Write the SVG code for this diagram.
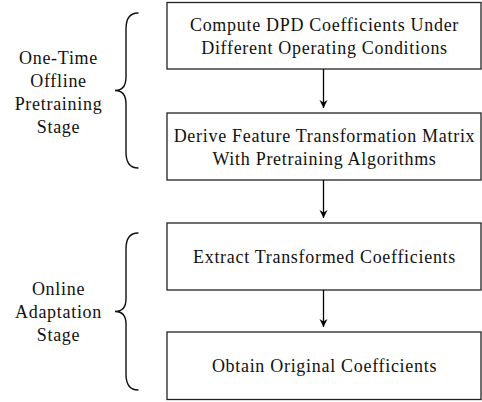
<svg xmlns="http://www.w3.org/2000/svg" width="482" height="402" viewBox="0 0 482 402">
  <defs>
    <style>
      .box { fill: #ffffff; stroke: #222222; stroke-width: 1.3; }
      .lbl { font-family: "Liberation Serif", "DejaVu Serif", serif; font-size: 18px; letter-spacing: 0.7px; fill: #111111; text-anchor: middle; }
      .edge { stroke: #000000; stroke-width: 1.3; fill: none; }
      .brace { stroke: #111111; stroke-width: 1.4; fill: none; stroke-linecap: round; }
    </style>
    <marker id="arrowhead" markerWidth="10" markerHeight="10" refX="8" refY="5" orient="auto" markerUnits="userSpaceOnUse">
      <path d="M0,1 L8,5 L0,9 L2.5,5 Z" fill="#000000"/>
    </marker>
  </defs>
  <rect width="482" height="402" fill="#ffffff"/>

  <!-- stage labels with braces -->
  <g id="stage-offline">
    <path class="brace" d="M138,13 C129,13 126,19 126,29 L126,77 C126,86 122,90.5 115,90.5 C122,90.5 126,95 126,104 L126,152 C126,162 129,168 138,168"/>
    <text class="lbl" x="58.5" y="64">One-Time</text>
    <text class="lbl" x="58.5" y="87">Offline</text>
    <text class="lbl" x="58.5" y="110">Pretraining</text>
    <text class="lbl" x="58.5" y="133">Stage</text>
  </g>
  <g id="stage-online">
    <path class="brace" d="M138,233 C129,233 126,239 126,249 L126,299 C126,307 122,311.5 115,311.5 C122,311.5 126,316 126,324 L126,374 C126,384 129,390 138,390"/>
    <text class="lbl" x="58.5" y="295">Online</text>
    <text class="lbl" x="58.5" y="318">Adaptation</text>
    <text class="lbl" x="58.5" y="341">Stage</text>
  </g>

  <!-- process steps -->
  <g id="step-compute">
    <rect class="box" x="167" y="2.5" width="314" height="66.5"/>
    <text class="lbl" x="324.5" y="31">Compute DPD Coefficients Under</text>
    <text class="lbl" x="324.5" y="54">Different Operating Conditions</text>
  </g>
  <g id="step-derive">
    <rect class="box" x="167" y="113" width="314" height="67"/>
    <text class="lbl" x="324.5" y="142">Derive Feature Transformation Matrix</text>
    <text class="lbl" x="324.5" y="165">With Pretraining Algorithms</text>
  </g>
  <g id="step-extract">
    <rect class="box" x="167" y="223" width="314" height="67"/>
    <text class="lbl" x="324.5" y="263">Extract Transformed Coefficients</text>
  </g>
  <g id="step-obtain">
    <rect class="box" x="167" y="332" width="314" height="67.5"/>
    <text class="lbl" x="324.5" y="372">Obtain Original Coefficients</text>
  </g>

  <!-- flow connectors -->
  <g id="connectors">
    <line class="edge" x1="323.5" y1="69" x2="323.5" y2="108" marker-end="url(#arrowhead)"/>
    <line class="edge" x1="323.5" y1="180" x2="323.5" y2="218" marker-end="url(#arrowhead)"/>
    <line class="edge" x1="323.5" y1="290" x2="323.5" y2="327" marker-end="url(#arrowhead)"/>
  </g>
</svg>
